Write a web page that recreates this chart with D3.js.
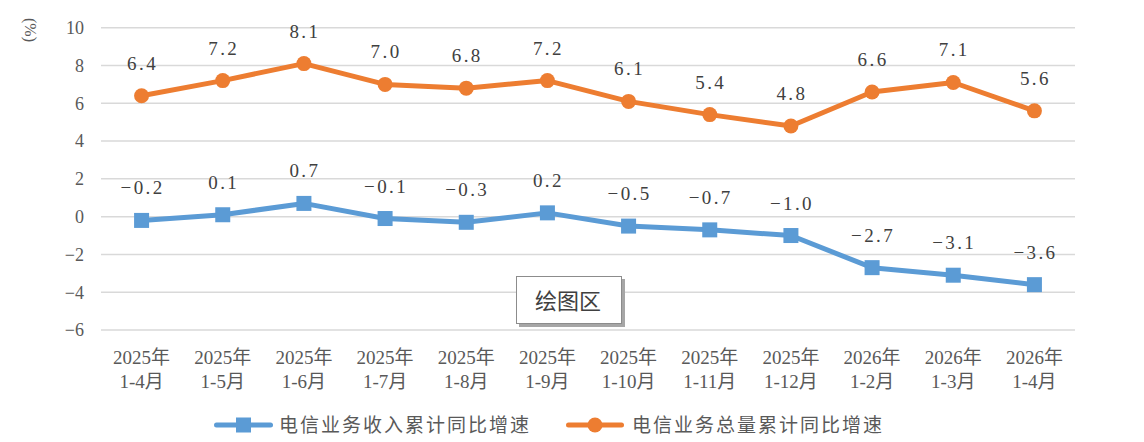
<!DOCTYPE html>
<html>
<head>
<meta charset="utf-8">
<script src="https://cdn.jsdelivr.net/npm/d3@7"></script>
<style>
  body { margin: 0; background: #fff; }
  svg { display: block; }
  .num { font-family: "Liberation Serif", "Noto Sans CJK SC", serif; }
  .cjk { font-family: "Liberation Serif", "Noto Sans CJK SC", sans-serif; }
</style>
</head>
<body>
<svg id="chart" width="1144" height="442"></svg>
<script>
// categories (two-line labels)
var years = ["2025年", "2025年", "2025年", "2025年", "2025年", "2025年",
             "2025年", "2025年", "2025年", "2026年", "2026年", "2026年"];
var months = ["1-4月", "1-5月", "1-6月", "1-7月", "1-8月", "1-9月",
              "1-10月", "1-11月", "1-12月", "1-2月", "1-3月", "1-4月"];

// series values (%)
var revenue = [-0.2, 0.1, 0.7, -0.1, -0.3, 0.2, -0.5, -0.7, -1.0, -2.7, -3.1, -3.6];
var volume = [6.4, 7.2, 8.1, 7.0, 6.8, 7.2, 6.1, 5.4, 4.8, 6.6, 7.1, 5.6];

var yTicks = [-6, -4, -2, 0, 2, 4, 6, 8, 10];

var seriesNames = ["电信业务收入累计同比增速", "电信业务总量累计同比增速"];
var blue = "#5b9bd5", orange = "#ed7d31";

var svg = d3.select("#chart");

var x = d3.scaleBand()
  .domain(d3.range(years.length))
  .range([101, 1075]);

var y = d3.scaleLinear()
  .domain([-6, 10])
  .range([330, 27.7]);

function cx(i) { return x(i) + x.bandwidth() / 2; }

function fmt(v) {
  var s = v.toFixed(1);
  return s.replace("-", "\u2212");
}

// gridlines
svg.append("g")
  .selectAll("line")
  .data(yTicks)
  .join("line")
  .attr("x1", 101)
  .attr("x2", 1075)
  .attr("y1", function (d) { return y(d); })
  .attr("y2", function (d) { return y(d); })
  .attr("stroke", "#d9d9d9")
  .attr("stroke-width", 1.5);

// y axis labels
svg.append("g")
  .selectAll("text")
  .data(yTicks)
  .join("text")
  .attr("class", "num")
  .attr("x", 84)
  .attr("y", function (d) { return y(d); })
  .attr("dy", "0.35em")
  .attr("text-anchor", "end")
  .attr("font-size", 18)
  .attr("fill", "#595959")
  .text(function (d) { return String(d).replace("-", "\u2212"); });

// unit label, rotated
svg.append("text")
  .attr("class", "cjk")
  .attr("transform", "translate(31,30) rotate(90)")
  .attr("text-anchor", "middle")
  .attr("dy", "0.35em")
  .attr("font-size", 16)
  .attr("fill", "#595959")
  .text("(%)");

// category labels
var cat = svg.append("g")
  .selectAll("text")
  .data(years)
  .join("text")
  .attr("class", "cjk")
  .attr("text-anchor", "middle")
  .attr("font-size", 19)
  .attr("fill", "#595959");

cat.append("tspan")
  .attr("x", function (d, i) { return cx(i); })
  .attr("y", 364)
  .text(function (d) { return d; });

cat.append("tspan")
  .attr("x", function (d, i) { return cx(i); })
  .attr("y", 388)
  .text(function (d, i) { return months[i]; });

var line = d3.line()
  .x(function (d, i) { return cx(i); })
  .y(function (d) { return y(d); });

function drawSeries(values, color, shape) {
  var g = svg.append("g");
  g.append("path")
    .datum(values)
    .attr("d", line)
    .attr("fill", "none")
    .attr("stroke", color)
    .attr("stroke-width", 5)
    .attr("stroke-linejoin", "round");

  if (shape === "square") {
    g.selectAll("rect")
      .data(values)
      .join("rect")
      .attr("x", function (d, i) { return cx(i) - 7.5; })
      .attr("y", function (d) { return y(d) - 7.5; })
      .attr("width", 15)
      .attr("height", 15)
      .attr("fill", color);
  } else {
    g.selectAll("circle")
      .data(values)
      .join("circle")
      .attr("cx", function (d, i) { return cx(i); })
      .attr("cy", function (d) { return y(d); })
      .attr("r", 7.5)
      .attr("fill", color);
  }

  g.selectAll("text")
    .data(values)
    .join("text")
    .attr("class", "num")
    .attr("x", function (d, i) { return cx(i) + 1; })
    .attr("y", function (d) { return y(d) - 26; })
    .attr("text-anchor", "middle")
    .attr("font-size", 19)
    .attr("letter-spacing", 2.4)
    .attr("fill", "#404040")
    .text(function (d) { return fmt(d); });
}

drawSeries(revenue, blue, "square");
drawSeries(volume, orange, "circle");

// "绘图区" tooltip box
var tip = svg.append("g");
tip.append("rect")
  .attr("x", 519).attr("y", 279)
  .attr("width", 106).attr("height", 48)
  .attr("fill", "#a6a6a6");
tip.append("rect")
  .attr("x", 516.5).attr("y", 276.5)
  .attr("width", 105).attr("height", 47)
  .attr("fill", "#fff")
  .attr("stroke", "#8c8c8c")
  .attr("stroke-width", 1);
tip.append("text")
  .attr("x", 568)
  .attr("y", 301)
  .attr("dy", "0.35em")
  .attr("text-anchor", "middle")
  .attr("font-family", "'Noto Sans CJK SC', sans-serif")
  .attr("font-size", 22)
  .attr("fill", "#404040")
  .text("绘图区");

// legend
var legend = svg.append("g");
var legendItems = [
  { name: seriesNames[0], color: blue, shape: "square", x0: 214, x1: 273, tx: 279 },
  { name: seriesNames[1], color: orange, shape: "circle", x0: 566, x1: 624, tx: 632 }
];
legendItems.forEach(function (it) {
  var ly = 425;
  legend.append("line")
    .attr("x1", it.x0 + 2.5).attr("x2", it.x1 - 2.5)
    .attr("y1", ly).attr("y2", ly)
    .attr("stroke", it.color)
    .attr("stroke-width", 5)
    .attr("stroke-linecap", "round");
  var mx = (it.x0 + it.x1) / 2;
  if (it.shape === "square") {
    legend.append("rect")
      .attr("x", mx - 7.5).attr("y", ly - 7.5)
      .attr("width", 15).attr("height", 15)
      .attr("fill", it.color);
  } else {
    legend.append("circle")
      .attr("cx", mx).attr("cy", ly).attr("r", 7.5)
      .attr("fill", it.color);
  }
  legend.append("text")
    .attr("class", "cjk")
    .attr("x", it.tx)
    .attr("y", ly)
    .attr("dy", "0.36em")
    .attr("font-size", 19)
    .attr("letter-spacing", 2)
    .attr("fill", "#595959")
    .text(it.name);
});
</script>
</body>
</html>
